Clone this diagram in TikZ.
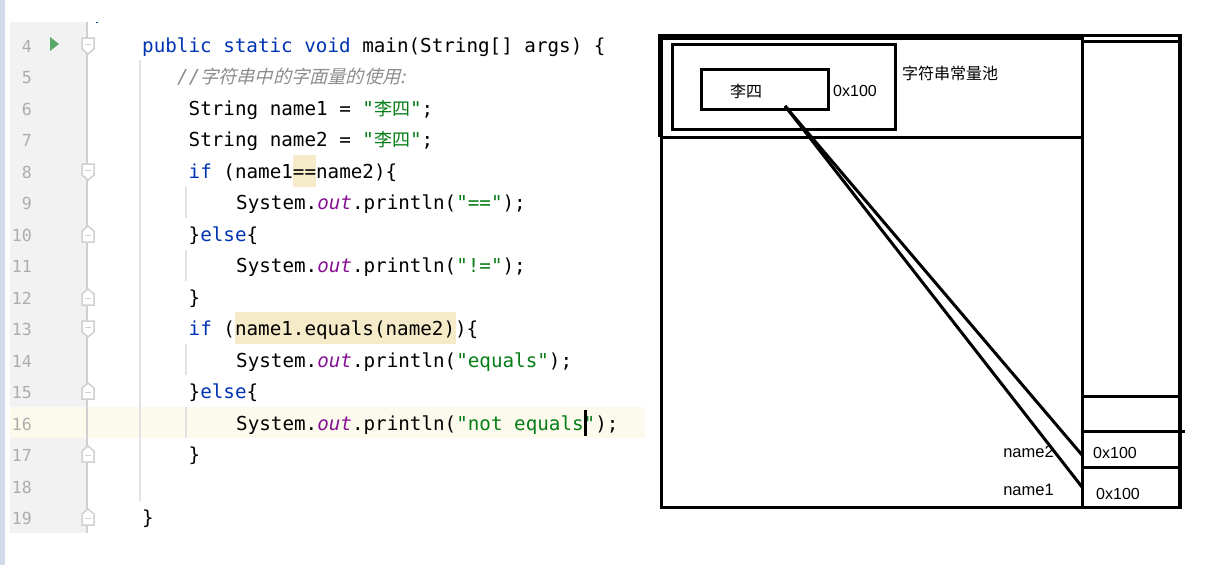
\documentclass[tikz,border=0pt]{standalone}
\usepackage{fontspec}
\setmainfont{Liberation Sans}
\setmonofont{DejaVu Sans Mono}
\newfontfamily\cjkfont{Noto Sans CJK SC}
\newfontfamily\cjkslant[FakeSlant=0.25]{Noto Sans CJK SC}
\definecolor{keyblue}{HTML}{0033B3}
\definecolor{strgreen}{HTML}{067D17}
\definecolor{outpurple}{HTML}{871094}
\definecolor{hintgrey}{HTML}{8C8C8C}
\definecolor{gutterbg}{HTML}{F2F2F2}
\definecolor{gutterline}{HTML}{D0D0D0}
\definecolor{guideline}{HTML}{E2E2E2}
\definecolor{caretbg}{HTML}{FCFAED}
\definecolor{matchbg}{HTML}{F6EBC8}
\definecolor{numgrey}{HTML}{ADADAD}
\definecolor{edgeblue}{HTML}{D2DBEB}
\definecolor{rungreen}{HTML}{59A869}
\newcommand{\kw}[1]{\textcolor{keyblue}{#1}}
\newcommand{\jstr}[1]{\textcolor{strgreen}{#1}}
\newcommand{\outf}{\textcolor{outpurple}{\itshape out}}
\newcommand{\foldopen}[1]{%
  \draw [foldmark] (82,#1-7) -- (94,#1-7) -- (94,#1+4) -- (88,#1+9) -- (82,#1+4) -- cycle;
  \draw [gutterline,thick] (85,#1-1) -- (91,#1-1);}
\newcommand{\foldclose}[1]{%
  \draw [foldmark] (82,#1+8) -- (94,#1+8) -- (94,#1-3) -- (88,#1-8) -- (82,#1-3) -- cycle;
  \draw [gutterline,thick] (85,#1+1) -- (91,#1+1);}

\begin{document}
\begin{tikzpicture}[%
      x=1pt,y=-1pt,
      codeline/.style={anchor=base west,inner sep=0pt,font=\ttfamily\fontsize{19.24}{22}\selectfont},
      linenum/.style={anchor=base east,inner sep=0pt,text=numgrey,font=\ttfamily\fontsize{16.6}{20}\selectfont},
      foldmark/.style={draw=gutterline,fill=white,line width=1.5pt},
      guide/.style={guideline,line width=1.5pt},
      memline/.style={draw=black,line width=3pt},
      membox/.style={draw=black,line width=3pt,inner sep=0pt,anchor=north west},
      memtext/.style={inner sep=0pt,font=\fontsize{16}{18}\selectfont},
      ]
      \useasboundingbox (0,0) rectangle (1214,565);

      % editor background
      \fill [edgeblue] (0,0) rectangle (5,565);
      \fill [gutterbg] (10,22) rectangle (87,533);
      \fill [caretbg] (10,407) rectangle (645,438);
      \fill [matchbg] (293,155) rectangle (316,187);
      \fill [matchbg] (235,312) rectangle (456,344);
      \draw [gutterline,line width=1.5pt] (87,22) -- (87,533);
      \fill [keyblue] (96,22) rectangle (98,23);
      \draw [guide] (140,60) -- (140,501);
      \draw [guide] (186,187) -- (186,218);
      \draw [guide] (186,250) -- (186,281);
      \draw [guide] (186,344) -- (186,375);
      \draw [guide] (186,407) -- (186,438);
      \fill [rungreen] (50,37) -- (59,44) -- (50,51) -- cycle;

      \foldopen{45}
      \foldopen{171}
      \foldclose{234}
      \foldclose{297}
      \foldopen{328}
      \foldclose{391}
      \foldclose{454}
      \foldclose{517}

      \node [linenum] (num4) at (32,52) {4};
      \node [linenum] (num5) at (32,83) {5};
      \node [linenum] (num6) at (32,115) {6};
      \node [linenum] (num7) at (32,146) {7};
      \node [linenum] (num8) at (32,178) {8};
      \node [linenum] (num9) at (32,209) {9};
      \node [linenum] (num10) at (32,241) {10};
      \node [linenum] (num11) at (32,272) {11};
      \node [linenum] (num12) at (32,304) {12};
      \node [linenum] (num13) at (32,335) {13};
      \node [linenum] (num14) at (32,367) {14};
      \node [linenum] (num15) at (32,398) {15};
      \node [linenum] (num16) at (32,430) {16};
      \node [linenum] (num17) at (32,461) {17};
      \node [linenum] (num18) at (32,493) {18};
      \node [linenum] (num19) at (32,524) {19};

      % code
      \node [codeline] (line4) at (142,52) {\kw{public static void} main(String[] args) \{};
      \node [codeline,text=hintgrey] (line5) at (177,83) {\textit{//}{\cjkslant\fontsize{18.2}{22}\selectfont 字符串中的字面量的使用:}};
      \node [codeline] (line6) at (188.5,115) {String name1 = \jstr{"{\cjkfont\fontsize{18}{22}\selectfont 李四}"};};
      \node [codeline] (line7) at (188.5,146) {String name2 = \jstr{"{\cjkfont\fontsize{18}{22}\selectfont 李四}"};};
      \node [codeline] (line8) at (188.5,178) {\kw{if} (name1==name2)\{};
      \node [codeline] (line9) at (236,209) {System.\outf.println(\jstr{"=="});};
      \node [codeline] (line10) at (188.5,241) {\}\kw{else}\{};
      \node [codeline] (line11) at (236,272) {System.\outf.println(\jstr{"!="});};
      \node [codeline] (line12) at (188.5,304) {\}};
      \node [codeline] (line13) at (188.5,335) {\kw{if} (name1.equals(name2))\{};
      \node [codeline] (line14) at (236,367) {System.\outf.println(\jstr{"equals"});};
      \node [codeline] (line15) at (188.5,398) {\}\kw{else}\{};
      \node [codeline] (line16) at (236,430) {System.\outf.println(\jstr{"not equals"});};
      \node [codeline] (line17) at (188.5,461) {\}};
      \node [codeline] (line19) at (142,524) {\}};
      \fill [black] (584,410) rectangle (586.5,436);

      % memory frame
      \draw [memline,line width=6pt] (661,37) -- (1082,37);
      \draw [memline,line width=5pt] (660.5,34) -- (660.5,137);
      \draw [memline] (661,137) -- (661,507);
      \draw [memline] (660,137.5) -- (1082,137.5);
      \draw [memline] (660,507) -- (1181,507);
      \draw [memline] (1082.5,35) -- (1082.5,508);
      \draw [memline,line width=4pt] (1180,34) -- (1180,509);
      \draw [memline] (1082,35.5) -- (1182,35.5);
      \draw [memline] (1082,41.5) -- (1180,41.5);
      \draw [memline] (1082,396) -- (1180,396);
      \draw [memline] (1082,431) -- (1185,431);
      \draw [memline] (1082,467) -- (1180,467);

      \node [membox,minimum width=223pt,minimum height=85pt] (pool) at (671,43) {};
      \node [membox,minimum width=127pt,minimum height=40pt] (litcell) at (700,68) {};
      \node [memtext,font=\cjkfont\fontsize{16}{18}\selectfont] (littext) at (746,91) {李四};
      \node [memtext] (litaddr) at (855,90.5) {0x100};
      \node [memtext,font=\cjkfont\fontsize{16}{18}\selectfont] (poollabel) at (950,73) {字符串常量池};
      \node [memtext,font=\fontsize{16.5}{18}\selectfont] (nametwo) at (1028.5,452) {name2};
      \node [memtext,font=\fontsize{16.5}{18}\selectfont] (nameone) at (1028.5,490) {name1};
      \node [memtext] (addrtwo) at (1115,452.5) {0x100};
      \node [memtext] (addrone) at (1118,493.5) {0x100};

      \coordinate (litref) at (785,106);
      \coordinate (slottwo) at (1082,455);
      \coordinate (slotone) at (1082,487);
      \draw [memline] (litref) -- (slottwo);
      \draw [memline] (litref) -- (slotone);
      \end{tikzpicture}
\end{document}
